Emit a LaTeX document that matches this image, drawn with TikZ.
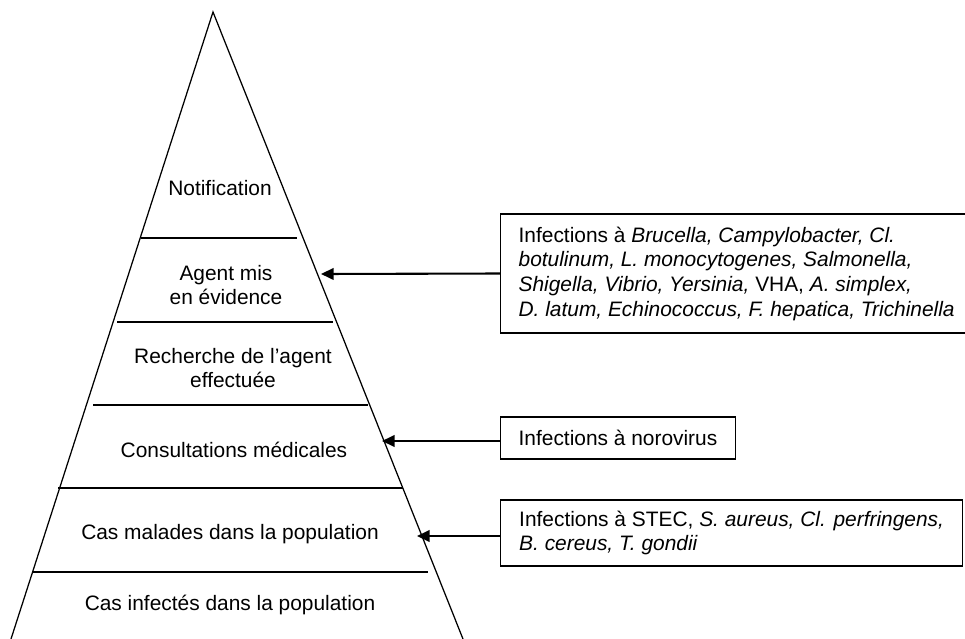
\documentclass[tikz,border=0pt]{standalone}
\usepackage{fontspec}
\setmainfont{Liberation Sans}
\usetikzlibrary{arrows.meta}
\begin{document}
\begin{tikzpicture}[x=0.4785pt,y=-0.4785pt,
  level/.style={align=center, font=\fontsize{10}{11.5}\selectfont},
  infobox/.style={draw, line width=0.65pt, anchor=west, align=left, inner xsep=8.6pt, inner ysep=0pt, font=\fontsize{10}{11.8}\selectfont},
  pointer/.style={-{Triangle[length=6pt,width=5.5pt]}, line width=1pt}]
\useasboundingbox (0,0) rectangle (965,639);
% the pyramid and its layers
\coordinate (apex) at (213,12);
\draw[line width=0.6pt] (11,639) -- (apex) -- (463,639);
\foreach \yy/\xa/\xb in {238/141/297, 322/117/333, 405/93/368, 488/58/403, 572/33/428}
  \draw[line width=0.6pt] (\xa,\yy) -- (\xb,\yy);
\node[level] (notif) at (220,188) {Notification};
\node[level] (agent) at (226,285) {Agent mis\\en évidence};
\node[level] (search) at (233,368) {Recherche de l’agent\\effectuée};
\node[level] (consult) at (234,450) {Consultations médicales};
\node[level] (sick) at (230,534) {Cas malades dans la population};
\node[level] (infect) at (230,605) {Cas infectés dans la population};
% boxes on the right
\node[infobox, minimum width=223.5pt, minimum height=57pt] (boxA) at (500,273.5)
  {Infections à \textit{Brucella, Campylobacter, Cl.}\\
   \textit{botulinum, L. monocytogenes, Salmonella,}\\
   \textit{Shigella, Vibrio, Yersinia,} VHA, \textit{A. simplex,}\\
   \textit{D. latum, Echinococcus, F. hepatica, Trichinella}};
\node[infobox, minimum height=20pt] (boxB) at (500,438) {Infections à norovirus};
\node[infobox, minimum width=221pt, minimum height=31.6pt] (boxC) at (500,533)
  {Infections à STEC, \textit{S. aureus, Cl. perfringens,}\\
   \textit{B. cereus, T. gondii}};
% arrows
\coordinate (tipA) at (321,274);
\coordinate (tipB) at (382,441);
\coordinate (tipC) at (417,536);
\draw[pointer] (boxA.west) -- (tipA);
\draw[pointer] (boxB.west |- tipB) -- (tipB);
\draw[pointer] (boxC.west |- tipC) -- (tipC);
\end{tikzpicture}
\end{document}
